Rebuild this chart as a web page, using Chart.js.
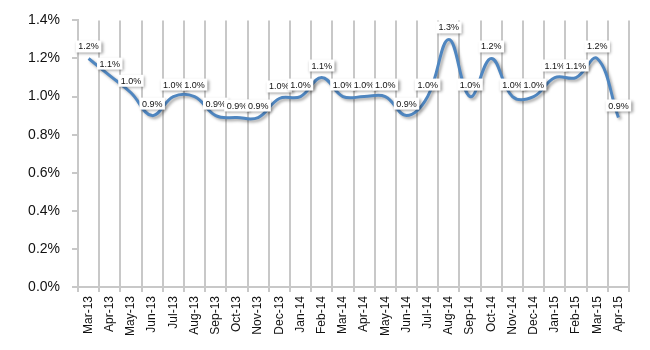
<!DOCTYPE html>
<html>
<head>
<meta charset="utf-8">
<script src="https://cdn.jsdelivr.net/npm/chart.js@4"></script>
<style>
  html, body { margin: 0; padding: 0; background: #fff; }
  #wrap { width: 650px; height: 350px; }
</style>
</head>
<body>
<div id="wrap"><canvas id="rateChart" width="650" height="350"></canvas></div>
<script>
  // monthly rate, in percent
  var months = ['Mar-13', 'Apr-13', 'May-13', 'Jun-13', 'Jul-13', 'Aug-13', 'Sep-13', 'Oct-13', 'Nov-13',
    'Dec-13', 'Jan-14', 'Feb-14', 'Mar-14', 'Apr-14', 'May-14', 'Jun-14', 'Jul-14', 'Aug-14', 'Sep-14',
    'Oct-14', 'Nov-14', 'Dec-14', 'Jan-15', 'Feb-15', 'Mar-15', 'Apr-15'];
  var rates = [1.2, 1.11, 1.02, 0.9, 1.0, 1.0, 0.9, 0.89, 0.89, 0.99, 1.0, 1.1, 1.0, 1.0, 1.0, 0.9,
    1.0, 1.3, 1.0, 1.2, 1.0, 1.0, 1.1, 1.1, 1.2, 0.89];
  var yMin = 0, yMax = 1.4, yStep = 0.2;

  var gridGray = '#c8c8c8';
  var lineBlue = '#4f86c0';

  // soft drop shadow under the line (Excel style)
  var lineShadow = {
    id: 'lineShadow',
    beforeDatasetsDraw: function (chart) {
      var ctx = chart.ctx;
      ctx.save();
      ctx.shadowColor = 'rgba(0,0,0,0.35)';
      ctx.shadowBlur = 3;
      ctx.shadowOffsetX = 2;
      ctx.shadowOffsetY = 2;
    },
    afterDatasetsDraw: function (chart) {
      chart.ctx.restore();
    }
  };

  // white boxed value labels above each point
  var valueLabels = {
    id: 'valueLabels',
    afterDatasetsDraw: function (chart) {
      var ctx = chart.ctx;
      var meta = chart.getDatasetMeta(0);
      ctx.save();
      ctx.font = '9px "Liberation Sans", Arial, sans-serif';
      ctx.textAlign = 'center';
      ctx.textBaseline = 'middle';
      meta.data.forEach(function (pt, i) {
        var txt = rates[i].toFixed(1) + '%';
        var w = ctx.measureText(txt).width + 5;
        var h = 12;
        var bx = pt.x - w / 2;
        var by = pt.y - 6 - h;
        ctx.save();
        ctx.shadowColor = 'rgba(0,0,0,0.4)';
        ctx.shadowBlur = 3;
        ctx.shadowOffsetX = 1.5;
        ctx.shadowOffsetY = 1.5;
        ctx.fillStyle = '#fff';
        ctx.fillRect(bx, by, w, h);
        ctx.restore();
        ctx.fillStyle = '#111';
        ctx.fillText(txt, pt.x, by + h / 2 + 0.5);
      });
      ctx.restore();
    }
  };

  new Chart(document.getElementById('rateChart'), {
    type: 'line',
    data: {
      labels: months,
      datasets: [{
        data: rates,
        borderColor: lineBlue,
        borderWidth: 3,
        tension: 0.4,
        pointRadius: 0,
        fill: false
      }]
    },
    options: {
      responsive: false,
      animation: false,
      layout: { padding: { top: 20, right: 21, bottom: 0, left: 0 } },
      plugins: {
        legend: { display: false },
        tooltip: { enabled: false }
      },
      scales: {
        x: {
          offset: true,
          afterFit: function (scale) { scale.height = 63; },
          grid: { offset: true, color: gridGray, lineWidth: 2, tickLength: 5 },
          border: { color: gridGray, width: 2 },
          ticks: {
            autoSkip: false,
            minRotation: 90,
            maxRotation: 90,
            padding: 4,
            color: '#111',
            font: { family: '"Liberation Sans", Arial, sans-serif', size: 12 }
          }
        },
        y: {
          min: yMin,
          max: yMax,
          afterFit: function (scale) { scale.width = 78; },
          grid: { drawOnChartArea: false, color: gridGray, lineWidth: 2, tickLength: 6 },
          border: { color: gridGray, width: 2 },
          ticks: {
            stepSize: yStep,
            padding: 12,
            color: '#111',
            font: { family: '"Liberation Sans", Arial, sans-serif', size: 14 },
            callback: function (v) { return v.toFixed(1) + '%'; }
          }
        }
      }
    },
    plugins: [lineShadow, valueLabels]
  });
</script>
</body>
</html>
